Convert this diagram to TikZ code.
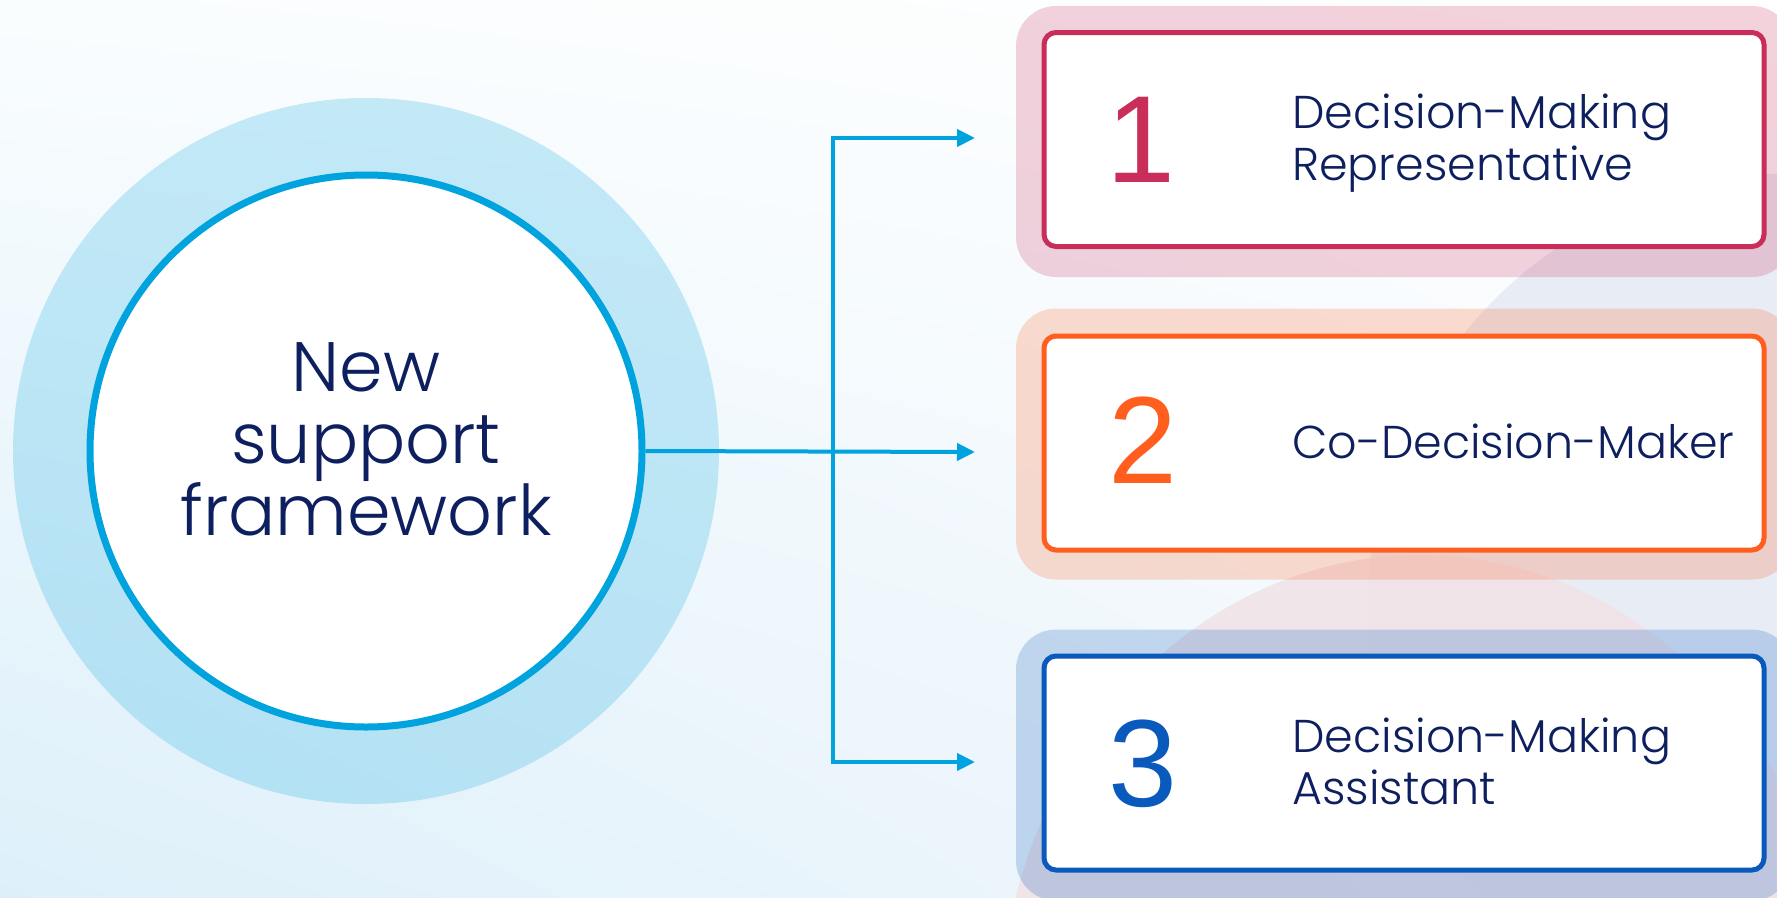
\documentclass[tikz,border=0pt]{standalone}
\usepackage{fontspec}
\setmainfont{Poppins}[UprightFont={* Light}]
\newfontfamily\numfont{Liberation Sans}
\usetikzlibrary{arrows.meta,shadings}
\definecolor{navy}{HTML}{0D1F5E}
\definecolor{cyanline}{HTML}{00A3DD}
\definecolor{cone}{HTML}{C82E59}
\definecolor{ctwo}{HTML}{FF5E1F}
\definecolor{cthree}{HTML}{0A5ABD}
\definecolor{lav}{HTML}{E8ECF5}
\definecolor{pinkbg}{HTML}{F0E3E7}
\definecolor{bgll}{HTML}{DDF0FA}
\definecolor{bgul}{HTML}{FAFDFE}
\definecolor{bglr}{HTML}{F5F8FC}
\tikzset{
  halo/.style={rectangle, rounded corners=40pt, inner sep=0pt, minimum width=776pt, minimum height=271pt, fill opacity=0.21},
  stepbox/.style={rectangle, rounded corners=12pt, inner sep=0pt, fill=white, line width=5pt, minimum width=720pt, minimum height=214pt},
  numtxt/.style={font=\numfont\fontsize{124}{124}\selectfont, anchor=base, inner sep=0pt},
  lbl/.style={font=\fontsize{46}{52}\selectfont, text=navy, align=left, anchor=base west, inner sep=0pt},
  conn/.style={draw=cyanline, line width=4pt, line join=miter, >={Triangle[length=18pt, width=17pt]}}
}
\begin{document}
\begin{tikzpicture}[x=1pt,y=-1pt]
\useasboundingbox (0,0) rectangle (1777,897);
\clip (0,0) rectangle (1777,897);
% background
\shade[lower left=bgll, upper left=bgul, lower right=bglr, upper right=white] (0,0) rectangle (1777,897);
\fill[lav] (1800,605) circle (432);
\fill[pinkbg, fill opacity=0.9] (1420,1025) ellipse [x radius=420, y radius=470];
% central circle
\fill[cyanline, fill opacity=0.21] (366,451) circle (353);
\node[circle, draw=cyanline, fill=white, line width=7pt, minimum size=552pt, inner sep=0pt] (frame) at (366,451) {};
\node[font=\fontsize{70}{72}\selectfont, text=navy, align=center, anchor=base, inner sep=0pt] (ftext) at (366,535) {New\\support\\framework};
% boxes
\node[halo, fill=cone] (h1) at (1404,141.5) {};
\node[halo, fill=ctwo] (h2) at (1404,444) {};
\node[halo, fill=cthree] (h3) at (1404,765) {};
\node[stepbox, draw=cone] (b1) at (1404,139.5) {};
\node[stepbox, draw=ctwo] (b2) at (1404,443) {};
\node[stepbox, draw=cthree] (b3) at (1404,763) {};
\node[numtxt, text=cone] (n1) at (1141,182) {1};
\node[numtxt, text=ctwo] (n2) at (1143,483) {2};
\node[numtxt, text=cthree] (n3) at (1143,806) {3};
\node[lbl] (l1) at (1292,180) {Decision-Making\\Representative};
\node[lbl] (l2) at (1292,458) {Co-Decision-Maker};
\node[lbl] (l3) at (1292,804) {Decision-Making\\Assistant};
% connectors
\coordinate (t1) at (975,138);
\coordinate (t2) at (975,452);
\coordinate (t3) at (975,762);
\coordinate (j1) at (833,138);
\coordinate (j3) at (833,762);
\draw[conn, <->] (t1) -- (j1) -- (j3) -- (t3);
\draw[conn, ->] (frame.east) -- (t2);
\end{tikzpicture}
\end{document}
